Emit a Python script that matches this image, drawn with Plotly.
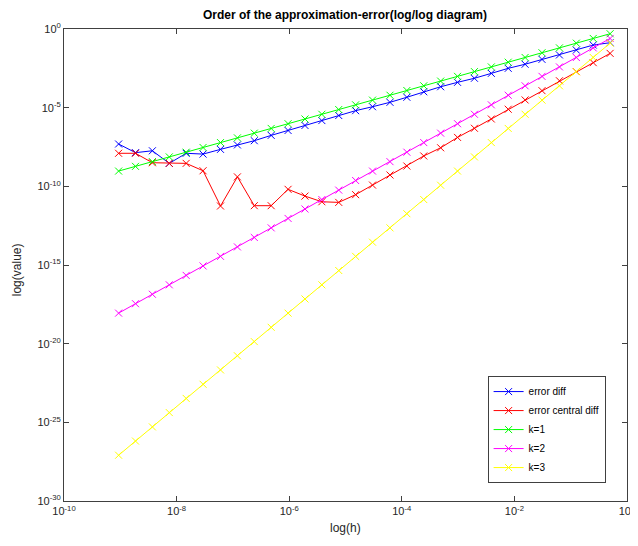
import plotly.graph_objects as go

# exponents (log10), ordered from smallest h to largest h
h_exp = [-9.03, -8.73, -8.43, -8.13, -7.83, -7.53, -7.22, -6.92, -6.62, -6.32,
         -6.02, -5.72, -5.42, -5.12, -4.82, -4.52, -4.21, -3.91, -3.61, -3.31,
         -3.01, -2.71, -2.41, -2.11, -1.81, -1.51, -1.20, -0.90, -0.60, -0.30]

err_diff_exp = [-7.31, -7.86, -7.74, -8.54, -7.90, -7.95, -7.65, -7.37, -7.10, -6.76,
                -6.45, -6.13, -5.82, -5.50, -5.19, -4.94, -4.66, -4.34, -3.99, -3.67,
                -3.39, -3.13, -2.82, -2.50, -2.24, -1.93, -1.65, -1.34, -1.02, -0.87]

err_central_exp = [-7.90, -7.90, -8.50, -8.54, -8.54, -9.01, -11.25, -9.40, -11.23, -11.23,
                   -10.19, -10.62, -10.98, -11.02, -10.53, -9.92, -9.28, -8.71, -8.07, -7.55,
                   -6.89, -6.31, -5.72, -5.10, -4.51, -3.92, -3.29, -2.71, -2.14, -1.55]

k1_exp = [-9.03, -8.73, -8.43, -8.13, -7.83, -7.53, -7.22, -6.92, -6.62, -6.32,
          -6.02, -5.72, -5.42, -5.12, -4.82, -4.52, -4.21, -3.91, -3.61, -3.31,
          -3.01, -2.71, -2.41, -2.11, -1.81, -1.51, -1.20, -0.90, -0.60, -0.30]

k2_exp = [-18.06, -17.46, -16.86, -16.26, -15.66, -15.06, -14.45, -13.85, -13.25, -12.64,
          -12.04, -11.44, -10.84, -10.24, -9.63, -9.03, -8.43, -7.83, -7.22, -6.62,
          -6.02, -5.42, -4.82, -4.21, -3.61, -3.01, -2.41, -1.81, -1.20, -0.60]

k3_exp = [-27.09, -26.19, -25.29, -24.38, -23.48, -22.58, -21.67, -20.77, -19.87, -18.96,
          -18.06, -17.16, -16.26, -15.35, -14.45, -13.55, -12.64, -11.74, -10.84, -9.93,
          -9.03, -8.13, -7.22, -6.32, -5.42, -4.52, -3.61, -2.71, -1.81, -0.90]

x_tick_exps = [-10, -8, -6, -4, -2, 0]
y_tick_exps = [-30, -25, -20, -15, -10, -5, 0]

series_names = ["error diff", "error central diff", "k=1", "k=2", "k=3"]
series_colors = ["#0000FF", "#FF0000", "#00FF00", "#FF00FF", "#FFFF00"]
series_data = [err_diff_exp, err_central_exp, k1_exp, k2_exp, k3_exp]

h = [10 ** e for e in h_exp]

fig = go.Figure()
for name, color, data in zip(series_names, series_colors, series_data):
    fig.add_trace(go.Scatter(
        x=h, y=[10 ** e for e in data], name=name, mode="lines+markers",
        line=dict(color=color, width=1),
        marker=dict(symbol="x-thin", size=7, color=color, line=dict(color=color, width=1)),
    ))

axis_common = dict(
    type="log", showgrid=False, zeroline=False, showline=True, linecolor="#404040",
    linewidth=1, mirror="ticks", ticks="inside", ticklen=5, tickcolor="#404040",
    tickfont=dict(size=11, color="#262626"), automargin=False,
)


def sup_label(e):
    return "10<sup>%d</sup>" % e


W, H = 638, 546
fig.update_layout(
    width=W, height=H,
    margin=dict(l=56, r=19, t=21, b=53),
    paper_bgcolor="white", plot_bgcolor="white",
    font=dict(family="Liberation Sans, Arial, sans-serif", color="#262626"),
    title=dict(text="<b>Order of the approximation-error(log/log diagram)</b>",
               x=(345 - 8) / W, xanchor="center", y=1 - 7 / H, yanchor="middle",
               font=dict(size=12, color="black")),
    xaxis=dict(axis_common, range=[-10, 0],
               tickvals=[10 ** e for e in x_tick_exps],
               ticktext=[sup_label(e) for e in x_tick_exps]),
    yaxis=dict(axis_common, range=[-30, 0],
               tickvals=[10 ** e for e in y_tick_exps],
               ticktext=[sup_label(e) for e in y_tick_exps]),
    annotations=[
        dict(text="log(h)", xref="paper", yref="paper", x=0.5, y=-27 / 472,
             xanchor="center", yanchor="middle", showarrow=False,
             font=dict(size=12, color="#262626")),
        dict(text="log(value)", xref="paper", yref="paper", x=-47.5 / 563, y=0.49,
             xanchor="center", yanchor="middle", showarrow=False, textangle=-90,
             font=dict(size=12, color="#262626")),
    ],
    legend=dict(x=0.962, y=0.038, xanchor="right", yanchor="bottom",
                bgcolor="white", bordercolor="#404040", borderwidth=1,
                font=dict(size=10, color="black"), tracegroupgap=0,
                itemwidth=30),
    showlegend=True,
)

fig.write_html("out.html")
